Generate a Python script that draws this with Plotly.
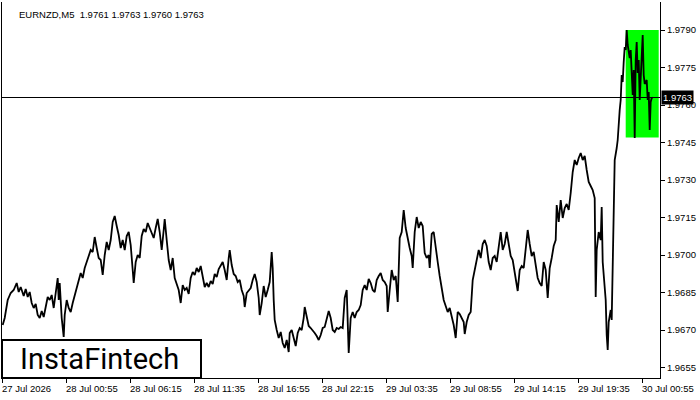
import pandas as pd
import numpy as np
import plotly.graph_objects as go

start_time = "2026-07-27 19:35"   # first M5 bar on screen
bar_minutes = 5

bars = [
    0, 2, 5, 8, 11, 14, 16, 18, 21, 23, 25, 27, 29, 31, 33, 35, 37, 39, 41, 43, 45, 47, 49, 51, 53, 55, 56, 57, 59, 61, 62, 64, 66, 68, 70, 72, 74, 76, 78, 80, 82, 84, 86, 88, 90, 92, 94, 96,
    98, 100, 102, 104, 106, 108, 110, 112, 114, 116, 118, 120, 122, 124, 126, 128, 130, 131, 133, 135, 137, 139, 141, 143, 145, 147, 149, 151, 153, 155, 157, 159, 161, 162, 164, 166, 168, 170, 172, 174, 176, 178, 180, 182, 184, 186, 188, 190,
    192, 194, 196, 198, 200, 202, 204, 206, 208, 210, 212, 214, 216, 218, 220, 222, 224, 226, 227, 229, 231, 233, 235, 237, 239, 241, 242, 244, 246, 248, 250, 252, 254, 256, 257, 259, 261, 263, 265, 267, 269, 270, 271, 272, 274, 276, 278, 280, 282, 284,
    286, 287, 289, 291, 293, 295, 297, 299, 301, 302, 304, 306, 308, 310, 312, 314, 316, 318, 320, 322, 324, 326, 328, 330, 332, 334, 336, 338, 340, 342, 344, 345, 346, 348, 350, 352, 354, 356, 358, 360, 362, 364, 366, 368, 370, 372, 374, 376, 378, 380, 382,
    384, 385, 387, 389, 391, 393, 395, 397, 399, 401, 403, 405, 407, 409, 410, 412, 414, 416, 418, 420, 422, 424, 426, 427, 429, 431, 433, 435, 437, 439, 441, 443, 445, 447, 449, 451, 453, 455, 457, 459, 461, 462, 464, 466, 468, 470, 472, 474, 476,
    478, 480, 482, 484, 486, 488, 490, 492, 494, 496, 498, 500, 502, 504, 506, 508, 510, 512, 514, 515, 517, 519, 521, 523, 525, 527, 529, 531, 533, 535, 537, 539, 541, 543, 545, 547, 549, 551, 553, 554, 556, 558, 560, 562, 564, 566, 568, 570, 572,
    574, 576, 578, 580, 582, 584, 586, 588, 590, 592, 593, 594, 596, 598, 599, 600, 601, 603, 604, 605, 606, 608, 609, 610, 611, 612, 614, 615, 617, 618, 619, 620, 621, 622, 623, 624, 625, 627, 628, 630, 631, 632, 633, 634, 635, 636, 637, 638, 640, 641, 642, 644, 645, 646, 647, 648, 649, 650,
]

prices = [
    1.96720, 1.96748, 1.96820, 1.96848, 1.96860, 1.96888, 1.96852, 1.96872, 1.96836, 1.96864, 1.96832, 1.96852, 1.96808, 1.96788, 1.96804, 1.96760, 1.96748, 1.96776, 1.96752, 1.96800, 1.96832, 1.96820, 1.96840, 1.96788, 1.96840, 1.96908, 1.96820, 1.96888, 1.96748, 1.96672, 1.96760, 1.96820, 1.96788, 1.96772, 1.96808, 1.96836, 1.96868, 1.96900, 1.96928, 1.96908, 1.96948, 1.96972, 1.96992, 1.97020, 1.97012, 1.97072, 1.97028, 1.96988,
    1.96980, 1.96920, 1.97000, 1.97052, 1.97020, 1.97060, 1.97132, 1.97156, 1.97116, 1.97080, 1.97028, 1.97060, 1.97020, 1.97076, 1.97092, 1.97040, 1.96940, 1.96888, 1.96972, 1.97000, 1.96988, 1.97076, 1.97104, 1.97092, 1.97128, 1.97108, 1.97092, 1.97068, 1.97108, 1.97144, 1.97092, 1.97020, 1.97100, 1.97144, 1.97060, 1.96980, 1.96940, 1.96988, 1.96908, 1.96884, 1.96860, 1.96808, 1.96880, 1.96860, 1.96868, 1.96844, 1.96908, 1.96932,
    1.96920, 1.96948, 1.96932, 1.96956, 1.96916, 1.96872, 1.96888, 1.96872, 1.96896, 1.96884, 1.96924, 1.96912, 1.96944, 1.96956, 1.96972, 1.96940, 1.96900, 1.96988, 1.97020, 1.96960, 1.96924, 1.96916, 1.96892, 1.96900, 1.96860, 1.96836, 1.96792, 1.96848, 1.96860, 1.96868, 1.96900, 1.96924, 1.96892, 1.96828, 1.96760, 1.96808, 1.96876, 1.96832, 1.96860, 1.96892, 1.97012, 1.96948, 1.96820, 1.96740, 1.96700, 1.96668, 1.96692, 1.96648, 1.96628, 1.96660,
    1.96612, 1.96688, 1.96700, 1.96668, 1.96636, 1.96688, 1.96708, 1.96700, 1.96748, 1.96792, 1.96760, 1.96716, 1.96708, 1.96700, 1.96688, 1.96676, 1.96660, 1.96680, 1.96708, 1.96712, 1.96740, 1.96776, 1.96748, 1.96700, 1.96692, 1.96708, 1.96704, 1.96712, 1.96708, 1.96828, 1.96860, 1.96740, 1.96608, 1.96748, 1.96772, 1.96748, 1.96772, 1.96780, 1.96800, 1.96860, 1.96880, 1.96860, 1.96904, 1.96888, 1.96860, 1.96852, 1.96900, 1.96916, 1.96928, 1.96900, 1.96892,
    1.96876, 1.96772, 1.96860, 1.96940, 1.96900, 1.96916, 1.96812, 1.97068, 1.97092, 1.97180, 1.97108, 1.97060, 1.97028, 1.96996, 1.96948, 1.97092, 1.97152, 1.97108, 1.97132, 1.97116, 1.97008, 1.96988, 1.97000, 1.96948, 1.97084, 1.97092, 1.97040, 1.96972, 1.96916, 1.96860, 1.96820, 1.96796, 1.96772, 1.96788, 1.96756, 1.96720, 1.96668, 1.96772, 1.96764, 1.96748, 1.96732, 1.96684, 1.96732, 1.96760, 1.96772, 1.96900, 1.96940, 1.96972, 1.97020,
    1.96988, 1.97044, 1.97060, 1.97036, 1.96972, 1.96940, 1.96988, 1.96996, 1.96972, 1.97028, 1.97092, 1.97020, 1.97044, 1.97092, 1.97040, 1.96996, 1.96980, 1.96932, 1.96892, 1.96856, 1.96940, 1.96956, 1.96948, 1.97020, 1.97100, 1.97044, 1.96996, 1.97012, 1.96948, 1.96908, 1.96888, 1.96876, 1.96972, 1.96940, 1.96828, 1.96948, 1.96988, 1.97036, 1.97060, 1.97200, 1.97132, 1.97220, 1.97148, 1.97188, 1.97204, 1.97180, 1.97248, 1.97332, 1.97380,
    1.97360, 1.97388, 1.97408, 1.97380, 1.97396, 1.97340, 1.97292, 1.97276, 1.97260, 1.97228, 1.96832, 1.97020, 1.97092, 1.97060, 1.97192, 1.96972, 1.96912, 1.96820, 1.96680, 1.96620, 1.96732, 1.96780, 1.96740, 1.96972, 1.97040, 1.97380, 1.97428, 1.97460, 1.97580, 1.97620, 1.97720, 1.97692, 1.97772, 1.97832, 1.97820, 1.97900, 1.97840, 1.97788, 1.97820, 1.97640, 1.97740, 1.97468, 1.97780, 1.97852, 1.97728, 1.97780, 1.97620, 1.97708, 1.97880, 1.97720, 1.97684, 1.97700, 1.97620, 1.97652, 1.97500, 1.97612, 1.97628, 1.97630,
]
assert len(bars) == len(prices)

title_text = "EURNZD,M5  1.9761 1.9763 1.9760 1.9763"
current_price = 1.9763

x_tick_times = ["2026-07-27 19:35", "2026-07-28 00:55", "2026-07-28 06:15", "2026-07-28 11:35",
                "2026-07-28 16:55", "2026-07-28 22:15", "2026-07-29 03:35", "2026-07-29 08:55",
                "2026-07-29 14:15", "2026-07-29 19:35", "2026-07-30 00:55"]
x_tick_labels = ["27 Jul 2026", "28 Jul 00:55", "28 Jul 06:15", "28 Jul 11:35", "28 Jul 16:55",
                 "28 Jul 22:15", "29 Jul 03:35", "29 Jul 08:55", "29 Jul 14:15", "29 Jul 19:35",
                 "30 Jul 00:55"]
y_tick_values = [1.9655, 1.9670, 1.9685, 1.9700, 1.9715, 1.9730, 1.9745, 1.9760, 1.9775, 1.9790]

# pattern rectangle (flag) : bars and price bounds
rect_bar_start = 623
rect_bar_end = 656
rect_low = 1.9747
rect_high = 1.9790

# view window in bars / price
view_bar_min, view_bar_max = -0.7, 657.3
view_price_min, view_price_max = 1.96508, 1.98012

t0 = pd.Timestamp(start_time)
def bar_time(b):
    return t0 + pd.Timedelta(minutes=bar_minutes * b)

times = [bar_time(b) for b in bars]

FONT = "Liberation Sans"

fig = go.Figure()
fig.add_trace(go.Scatter(x=times, y=prices, mode="lines",
                         line=dict(color="black", width=1.8), hoverinfo="skip"))

# green rectangle
fig.add_shape(type="rect", xref="x", yref="y",
              x0=bar_time(rect_bar_start), x1=bar_time(rect_bar_end),
              y0=rect_low, y1=rect_high, fillcolor="#00ff00", line=dict(width=0), layer="below")

# current price line
fig.add_shape(type="line", xref="paper", yref="y", x0=0, x1=1, y0=current_price, y1=current_price,
              line=dict(color="black", width=1))

# x tick labels (left aligned at tick)
for t, lab in zip(x_tick_times, x_tick_labels):
    fig.add_annotation(x=pd.Timestamp(t), y=0, xref="x", yref="paper", text=lab,
                       showarrow=False, xanchor="left", yanchor="top", xshift=-3, yshift=-3,
                       font=dict(family=FONT, size=9.5, color="black"))

# current price tag
fig.add_annotation(x=1, y=current_price, xref="paper", yref="y", text="1.9763",
                   showarrow=False, xanchor="left", yanchor="middle", xshift=1,
                   bgcolor="black", font=dict(family=FONT, size=9.5, color="white"), borderpad=1)

# title
fig.add_annotation(x=0, y=1, xref="paper", yref="paper", text=title_text, showarrow=False,
                   xanchor="left", yanchor="top", xshift=15, yshift=-5,
                   font=dict(family=FONT, size=9.5, color="black"))

# logo box
fig.add_shape(type="rect", xref="paper", yref="paper", x0=0, x1=199 / 658, y0=0, y1=38 / 376,
              fillcolor="white", line=dict(color="black", width=2), layer="above")
fig.add_annotation(x=97 / 658, y=19 / 376, xref="paper", yref="paper", text="InstaFintech",
                   showarrow=False, xanchor="center", yanchor="middle",
                   font=dict(family="Roboto", size=29, color="black"))

fig.update_layout(
    width=700, height=400,
    margin=dict(l=2, r=40, t=2, b=22, autoexpand=False),
    paper_bgcolor="white", plot_bgcolor="white",
    showlegend=False,
    xaxis=dict(type="date", range=[bar_time(view_bar_min), bar_time(view_bar_max)],
               showgrid=False, zeroline=False, showline=True, linecolor="black", linewidth=1,
               tickvals=[pd.Timestamp(t) for t in x_tick_times], ticks="outside", ticklen=4,
               tickcolor="black", showticklabels=False, automargin=False),
    yaxis=dict(range=[view_price_min, view_price_max], side="right", showgrid=False,
               zeroline=False, showline=True, mirror=True, linecolor="black", linewidth=1,
               tickvals=y_tick_values, ticktext=[f"{v:.4f}" for v in y_tick_values],
               ticks="outside", ticklen=4, tickcolor="black", automargin=False,
               tickfont=dict(family=FONT, size=9.5, color="black")),
)

fig.write_html("out.html", config={"displayModeBar": False},
               post_script="document.body.style.margin='0';")
